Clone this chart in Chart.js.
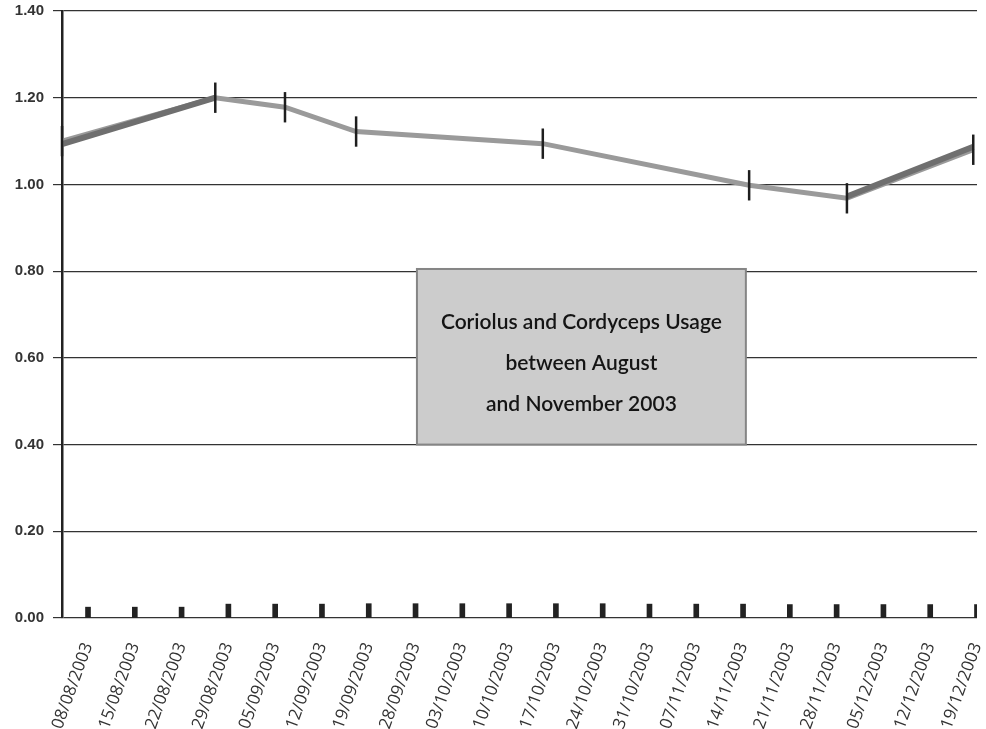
<!DOCTYPE html>
<html>
<head>
<meta charset="utf-8">
<script src="https://cdn.jsdelivr.net/npm/chart.js@4.4.0/dist/chart.umd.min.js"></script>
<style>
  html, body { margin: 0; padding: 0; background: #ffffff; }
  canvas { display: block; }
</style>
</head>
<body>
<canvas id="usage" width="986" height="729"></canvas>
<script>
// Weekly sample dates shown along the x axis
const weekLabels = [
  '08/08/2003', '15/08/2003', '22/08/2003', '29/08/2003', '05/09/2003',
  '12/09/2003', '19/09/2003', '28/09/2003', '03/10/2003', '10/10/2003',
  '17/10/2003', '24/10/2003', '31/10/2003', '07/11/2003', '14/11/2003',
  '21/11/2003', '28/11/2003', '05/12/2003', '12/12/2003', '19/12/2003'
];

// Small weekly readings drawn as thin bars on the baseline
const weeklyBars = [
  0.025, 0.025, 0.025, 0.032, 0.032, 0.032, 0.033, 0.033, 0.033, 0.033,
  0.033, 0.033, 0.032, 0.032, 0.032, 0.031, 0.031, 0.031, 0.031, 0.031
];

// Visit positions (in week units along the date axis) and usage readings
const visitWeeks = [-0.556, 2.72, 4.21, 5.73, 9.72, 14.13, 16.22, 18.92];
const usageLight = [1.100, 1.200, 1.178, 1.122, 1.094, 0.998, 0.968, 1.080];
const usageDark  = [1.093, 1.200, null, null, null, null, 0.972, 1.087];
const usageError = [0.035, 0.035, 0.035, 0.035, 0.035, 0.035, 0.035, 0.035];

// Value axis ticks
const yTicks = [0, 0.2, 0.4, 0.6, 0.8, 1.0, 1.2, 1.4];

// Caption inside the grey box
const titleLines = [
  'Coriolus and Cordyceps Usage',
  'between August',
  'and November 2003'
];

// Vertical error bars at each visit
const errorBarPlugin = {
  id: 'errorBars',
  afterDatasetsDraw(chart) {
    const xs = chart.scales.x, ys = chart.scales.y, ctx = chart.ctx;
    ctx.save();
    ctx.strokeStyle = '#1e1e1e';
    ctx.lineWidth = 2.5;
    visitWeeks.forEach((w, i) => {
      const x = xs.getPixelForValue(w);
      const yTop = ys.getPixelForValue(usageLight[i] + usageError[i]);
      const yBot = ys.getPixelForValue(usageLight[i] - usageError[i]);
      ctx.beginPath();
      ctx.moveTo(x, yTop);
      ctx.lineTo(x, yBot);
      ctx.stroke();
    });
    ctx.restore();
  }
};

// Grey caption box sitting on the 0.40 gridline
const captionBoxPlugin = {
  id: 'captionBox',
  beforeDatasetsDraw(chart, args, opts) {
    const xs = chart.scales.x, ys = chart.scales.y, ctx = chart.ctx;
    const left = xs.getPixelForValue(opts.xFrom);
    const right = xs.getPixelForValue(opts.xTo);
    const top = ys.getPixelForValue(opts.yTo);
    const bottom = ys.getPixelForValue(opts.yFrom);
    ctx.save();
    ctx.fillStyle = '#cccccc';
    ctx.fillRect(left, top, right - left, bottom - top);
    ctx.strokeStyle = '#858585';
    ctx.lineWidth = 2;
    ctx.strokeRect(left, top, right - left, bottom - top);
    ctx.fillStyle = '#141414';
    ctx.font = '600 21px Lato, "Open Sans", sans-serif';
    ctx.textAlign = 'center';
    ctx.textBaseline = 'middle';
    const cx = (left + right) / 2;
    titleLines.forEach((t, i) => {
      ctx.fillText(t, cx, top + 53 + i * 41);
    });
    ctx.restore();
  }
};

new Chart(document.getElementById('usage'), {
  type: 'bar',
  data: {
    datasets: [
      {
        type: 'line',
        data: visitWeeks.map((w, i) => ({ x: w, y: usageDark[i] })),
        borderColor: '#6f6f6f',
        borderWidth: 6,
        pointRadius: 0,
        tension: 0,
        spanGaps: false,
        clip: false,
        order: 0
      },
      {
        type: 'line',
        data: visitWeeks.map((w, i) => ({ x: w, y: usageLight[i] })),
        borderColor: '#9a9a9a',
        borderWidth: 5,
        pointRadius: 0,
        tension: 0,
        clip: false,
        order: 1
      },
      {
        type: 'bar',
        data: weeklyBars.map((v, i) => ({ x: i, y: v })),
        backgroundColor: '#222222',
        barThickness: 5,
        order: 2
      }
    ]
  },
  options: {
    responsive: false,
    animation: false,
    devicePixelRatio: 1,
    layout: { padding: { top: 11, right: 9, left: 0, bottom: 0 } },
    plugins: {
      legend: { display: false },
      tooltip: { enabled: false },
      captionBox: { xFrom: 7.03, xTo: 14.06, yFrom: 0.40, yTo: 0.805 }
    },
    scales: {
      x: {
        type: 'linear',
        offset: false,
        min: -0.556,
        max: 19,
        afterBuildTicks(scale) {
          scale.ticks = weekLabels.map((_, i) => ({ value: i }));
        },
        afterFit(scale) {
          scale.height = 111;
          scale.paddingLeft = 0;
          scale.paddingRight = 0;
        },
        grid: { display: false },
        border: { display: false },
        ticks: {
          autoSkip: false,
          minRotation: 70,
          maxRotation: 70,
          padding: 14,
          color: '#333333',
          font: { family: '"Open Sans", sans-serif', size: 17 },
          callback: (v) => weekLabels[v] ?? ''
        }
      },
      y: {
        type: 'linear',
        min: 0,
        max: 1.4,
        afterBuildTicks(scale) {
          scale.ticks = yTicks.map(v => ({ value: v }));
        },
        afterFit(scale) {
          scale.width = 62;
          scale.paddingTop = 0;
          scale.paddingBottom = 0;
        },
        grid: { color: '#333333', lineWidth: 1.2, tickLength: 9 },
        border: { display: true, color: '#222222', width: 2.5 },
        ticks: {
          padding: 9,
          color: '#333333',
          font: { family: '"Liberation Sans", Arial, sans-serif', size: 15, weight: 'bold' },
          callback: (v) => Number(v).toFixed(2)
        }
      }
    }
  },
  plugins: [captionBoxPlugin, errorBarPlugin]
});
</script>
</body>
</html>
